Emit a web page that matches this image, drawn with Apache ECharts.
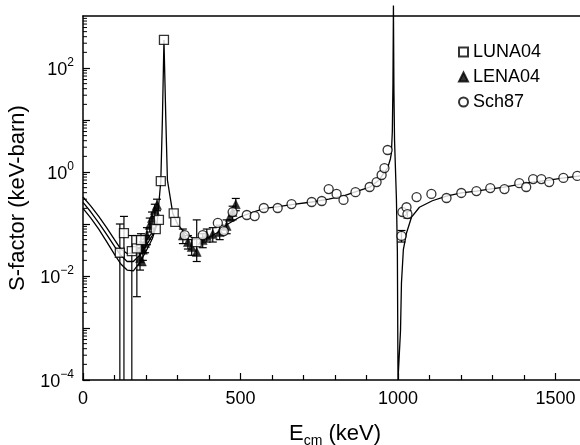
<!DOCTYPE html>
<html>
<head>
<meta charset="utf-8">
<script src="https://cdn.jsdelivr.net/npm/echarts@6/dist/echarts.min.js"></script>
<style>
html, body { margin: 0; padding: 0; background: #fff; }
#chart { width: 580px; height: 445px; }
</style>
</head>
<body>
<div id="chart"></div>
<script>
// data (E in keV, S in keV-barn)
var lunaE = [117, 130, 155, 171, 184, 231, 241, 247, 257, 288, 293, 361];
var lunaS = [0.028, 0.067, 0.030, 0.034, 0.049, 0.080, 0.12, 0.67, 346, 0.16, 0.11, 0.045];

var lenaE = [181, 187, 190, 197, 203, 212, 219, 228, 235, 317, 333, 345, 361, 380, 393, 412, 434, 456, 466, 475, 485];
var lenaS = [0.022, 0.019, 0.032, 0.043, 0.061, 0.096, 0.13, 0.185, 0.232, 0.06, 0.045, 0.036, 0.029, 0.049, 0.059, 0.064, 0.07, 0.092, 0.136, 0.17, 0.24];

var schE = [323, 380, 428, 447, 475, 520, 545, 574, 618, 662, 726, 758, 780, 805, 827, 865, 910, 932, 948, 957, 967,
  1011, 1014, 1027, 1030, 1059, 1106, 1154, 1201, 1249, 1293, 1338, 1385, 1407, 1429, 1455, 1480, 1525, 1569];
var schS = [0.061, 0.061, 0.105, 0.073, 0.17, 0.149, 0.142, 0.203, 0.203, 0.242, 0.265, 0.277, 0.47, 0.378, 0.29, 0.41, 0.515, 0.64, 0.875, 1.19, 2.65,
  0.059, 0.17, 0.21, 0.155, 0.33, 0.378, 0.316, 0.395, 0.43, 0.49, 0.47, 0.61, 0.515, 0.73, 0.73, 0.64, 0.77, 0.84];

// error bars: energy, lower, upper (1e-5 = runs off the axis)
var errE  = [117, 130, 155, 171, 184, 181, 190, 197, 203, 212, 219, 228, 235, 317, 333, 345, 361, 380, 393, 412, 434, 456, 475, 485, 1011, 1030];
var errLo = [1e-5, 1e-5, 1e-5, 0.004, 0.03, 0.013, 0.02, 0.028, 0.04, 0.07, 0.1, 0.14, 0.18, 0.042, 0.033, 0.025, 0.019, 0.035, 0.045, 0.045, 0.05, 0.065, 0.12, 0.18, 0.045, 0.13];
var errHi = [0.10, 0.14, 0.06, 0.06, 0.065, 0.035, 0.045, 0.06, 0.085, 0.13, 0.17, 0.24, 0.3, 0.08, 0.06, 0.05, 0.12, 0.065, 0.08, 0.085, 0.095, 0.12, 0.22, 0.31, 0.075, 0.18];

// fit curves
var fitE = [235, 247, 252, 257, 263, 268, 285, 300, 320, 345, 370, 400, 430, 460, 498, 540, 577, 620, 662, 726, 780, 830, 862, 910, 940, 951, 967, 976, 979, 982, 984, 985.5,
  987, 989, 995, 998, 1000, 1004, 1008, 1011, 1017, 1027, 1043, 1068, 1109, 1154, 1201, 1249, 1290, 1338, 1385, 1426, 1480, 1521, 1600];
var fitS = [0.1, 0.67, 10, 346, 10, 0.7, 0.16, 0.1, 0.07, 0.055, 0.05, 0.055, 0.07, 0.1, 0.136, 0.17, 0.2, 0.215, 0.235, 0.265, 0.3, 0.35, 0.41, 0.51, 0.7, 0.88, 1.19, 1.8, 2.3, 6, 50, 1600,
  40, 4.1, 0.3, 0.03, 1e-4, 1e-4, 9e-4, 0.0074, 0.032, 0.067, 0.136, 0.21, 0.28, 0.345, 0.395, 0.43, 0.47, 0.51, 0.58, 0.64, 0.70, 0.76, 0.87];

var lowE  = [0, 25, 50, 75, 100, 120, 140, 160, 180, 200, 220, 235];
var lowS1 = [0.33, 0.22, 0.14, 0.085, 0.05, 0.033, 0.027, 0.028, 0.035, 0.048, 0.068, 0.1];
var lowS2 = [0.26, 0.17, 0.105, 0.063, 0.037, 0.025, 0.019, 0.019, 0.025, 0.038, 0.06, 0.1];
var lowS3 = [0.2, 0.13, 0.08, 0.046, 0.026, 0.017, 0.013, 0.0125, 0.018, 0.03, 0.052, 0.1];

// log minor tick values on the S axis
var yDecades = [1e-4, 1e-3, 1e-2, 1e-1, 1, 10, 100];
var yMinor = [];
yDecades.forEach(function (d) {
  for (var k = 2; k <= 9; k++) yMinor.push(d * k);
});

function zip(a, b) {
  return a.map(function (v, i) { return [v, b[i]]; });
}

var chart = echarts.init(document.getElementById('chart'));

var font = 'Liberation Sans, Arial, Helvetica, sans-serif';
var black = '#000';

function fitLine(data, clip) {
  return {
    type: 'line',
    data: data,
    showSymbol: false,
    symbol: 'none',
    clip: clip,
    lineStyle: { color: black, width: 1.3 },
    z: 2,
    silent: true
  };
}

function renderErr(params, api) {
  var x = api.value(0);
  var top = api.coord([x, api.value(2)]);
  var low = api.coord([x, api.value(1)]);
  var cs = params.coordSys;
  var bottom = cs.y + cs.height;
  var yLow = Math.min(low[1], bottom);
  var st = { stroke: black, lineWidth: 1.2 };
  var kids = [
    { type: 'line', shape: { x1: top[0], y1: top[1], x2: top[0], y2: yLow }, style: st },
    { type: 'line', shape: { x1: top[0] - 4, y1: top[1], x2: top[0] + 4, y2: top[1] }, style: st }
  ];
  if (low[1] < bottom) {
    kids.push({ type: 'line', shape: { x1: low[0] - 4, y1: low[1], x2: low[0] + 4, y2: low[1] }, style: st });
  }
  return { type: 'group', children: kids };
}

function renderMinorTick(params, api) {
  var p = api.coord([0, api.value(1)]);
  return {
    type: 'line',
    shape: { x1: p[0], y1: p[1], x2: p[0] + 4, y2: p[1] },
    style: { stroke: black, lineWidth: 1 }
  };
}

var option = {
  animation: false,
  backgroundColor: '#fff',
  grid: { left: 83, right: -7, top: 16, bottom: 65, outerBoundsMode: 'none', containLabel: false },
  legend: {
    orient: 'vertical',
    left: 458,
    top: 42,
    padding: 0,
    itemWidth: 9,
    itemHeight: 9,
    itemGap: 5,
    data: ['LUNA04', 'LENA04', 'Sch87'],
    textStyle: { fontFamily: font, fontSize: 18, color: black, lineHeight: 20 }
  },
  xAxis: [{
    type: 'value',
    min: 0,
    max: 1600,
    interval: 500,
    position: 'bottom',
    name: '{e|E}{s|cm}{e| (keV)}',
    nameLocation: 'middle',
    nameGap: 41,
    nameTextStyle: {
      rich: {
        e: { fontFamily: font, fontSize: 22, color: black, verticalAlign: 'bottom', lineHeight: 24 },
        s: { fontFamily: font, fontSize: 14, color: black, verticalAlign: 'bottom', lineHeight: 16, padding: [0, 0, -3, 0] }
      }
    },
    axisLine: { show: true, onZero: false, lineStyle: { color: black, width: 1.5 } },
    axisTick: { show: true, inside: true, length: 7, lineStyle: { color: black, width: 1.2 } },
    minorTick: { show: true, splitNumber: 5, length: 5, lineStyle: { color: black, width: 1.2 } },
    axisLabel: {
      fontFamily: font, fontSize: 18, color: black, margin: 10,
      formatter: function (v) { return String(v); }
    },
    splitLine: { show: false },
    minorSplitLine: { show: false }
  }, {
    type: 'value',
    min: 0,
    max: 1600,
    position: 'top',
    axisLine: { show: true, lineStyle: { color: black, width: 1.5 } },
    axisTick: { show: false },
    axisLabel: { show: false },
    splitLine: { show: false }
  }],
  yAxis: [{
    type: 'log',
    logBase: 10,
    min: 1e-4,
    max: 1e3,
    interval: 1,
    position: 'left',
    name: 'S-factor (keV-barn)',
    nameLocation: 'middle',
    nameGap: 44,
    nameTextStyle: { fontFamily: font, fontSize: 22, color: black },
    axisLine: { show: true, lineStyle: { color: black, width: 1.5 } },
    axisTick: { show: true, inside: true, length: 7, lineStyle: { color: black, width: 1.2 } },
    axisLabel: {
      margin: 9,
      showMaxLabel: false,
      formatter: function (v) {
        var e = Math.round(Math.log10(v));
        if (e % 2 !== 0) return '';
        return '{b|10}{s|' + (e < 0 ? '\u2212' + (-e) : e) + '}';
      },
      rich: {
        b: { fontFamily: font, fontSize: 18, color: black, lineHeight: 22, verticalAlign: 'bottom' },
        s: { fontFamily: font, fontSize: 12, color: black, lineHeight: 22, verticalAlign: 'top' }
      }
    },
    splitLine: { show: false }
  }],
  series: [
    {
      type: 'custom',
      renderItem: renderMinorTick,
      data: yMinor.map(function (v) { return [0, v]; }),
      clip: false,
      z: 1,
      silent: true
    },
    {
      type: 'custom',
      renderItem: renderErr,
      data: errE.map(function (e, i) { return [e, errLo[i], errHi[i]]; }),
      clip: false,
      z: 1,
      silent: true
    },
    fitLine(zip(lowE, lowS1), true),
    fitLine(zip(lowE, lowS2), true),
    fitLine(zip(lowE, lowS3), true),
    fitLine(zip(fitE, fitS), false),
    {
      name: 'LUNA04',
      type: 'scatter',
      symbol: 'rect',
      symbolSize: 9,
      data: zip(lunaE, lunaS),
      itemStyle: { color: '#fff', borderColor: black, borderWidth: 1.3 },
      z: 4
    },
    {
      name: 'LENA04',
      type: 'scatter',
      symbol: 'triangle',
      symbolSize: 9,
      data: zip(lenaE, lenaS),
      itemStyle: { color: black, borderColor: black, borderWidth: 0.5 },
      z: 3
    },
    {
      name: 'Sch87',
      type: 'scatter',
      symbol: 'circle',
      symbolSize: 9,
      data: zip(schE, schS),
      itemStyle: { color: '#fff', borderColor: black, borderWidth: 1.3 },
      z: 4
    }
  ]
};

chart.setOption(option);
window.addEventListener('resize', function () {
  chart.resize();
});
</script>
</body>
</html>
